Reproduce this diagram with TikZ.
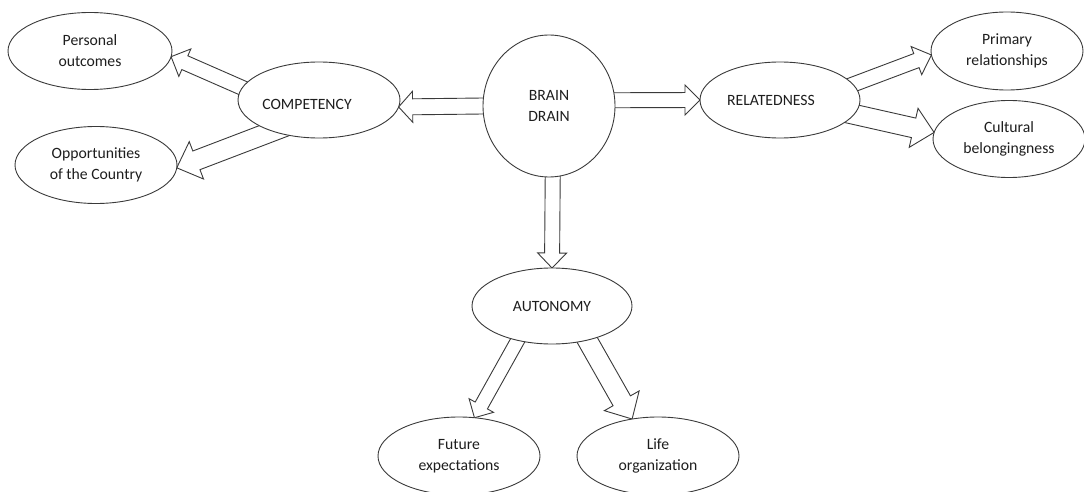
\documentclass[tikz,border=0pt]{standalone}
\usepackage{fontspec}
\setmainfont{Carlito}
\usetikzlibrary{shapes.geometric,calc}
\pgfdeclarelayer{bg}
\pgfsetlayers{bg,main}
\definecolor{ln}{HTML}{3A3A3A}
\definecolor{tx}{HTML}{1E1E1E}
\tikzset{
  oval/.style={ellipse, draw=ln, line width=0.9pt, fill=white, inner sep=0pt,
    outer sep=0pt, text=tx, align=center, font=\fontsize{15.7}{21}\selectfont},
  blk/.style={draw=ln, line width=0.9pt, fill=white, line join=miter},
}
% block arrow: #1 start anchor, #2 tip anchor, #3 shaft half width, #4 head half width, #5 head length
\newcommand\barrow[5]{%
  \path coordinate (s) at ($(#1)!-14pt!(#2)$) coordinate (b) at ($(#2)!#5!(#1)$);
  \draw[blk] ($(s)!#3!90:(#2)$) -- ($(b)!#3!90:(#2)$) -- ($(b)!#4!90:(#2)$) -- (#2)
    -- ($(b)!#4!-90:(#2)$) -- ($(b)!#3!-90:(#2)$) -- ($(s)!#3!-90:(#2)$) -- cycle;}
\begin{document}
\begin{tikzpicture}[x=1pt,y=1pt]
\useasboundingbox (0,0) rectangle (1084,-492);
\clip (0,0) rectangle (1084,-492);
\node[oval, minimum width=164pt, minimum height=77pt] (pers) at (90,-51) {Personal\\outcomes};
\node[oval, minimum width=162pt, minimum height=77pt] (opp) at (96,-165) {Opportunities\\of the Country};
\node[oval, minimum width=162pt, minimum height=76pt,
  label={[oval, draw=none, fill=none, xshift=-12pt, yshift=-4pt]center:COMPETENCY}] (comp) at (319,-100) {};
\node[oval, minimum width=132pt, minimum height=142pt] (brain) at (549,-106) {BRAIN\\DRAIN};
\node[oval, minimum width=160pt, minimum height=76pt,
  label={[oval, draw=none, fill=none, xshift=-9pt]center:RELATEDNESS}] (rel) at (780,-100) {};
\node[oval, minimum width=152pt, minimum height=78pt] (prim) at (1007,-51) {Primary\\relationships};
\node[oval, minimum width=152pt, minimum height=77pt] (cult) at (1009,-139) {Cultural\\belongingness};
\node[oval, minimum width=160pt, minimum height=76pt] (auto) at (552,-306) {AUTONOMY};
\node[oval, minimum width=162pt, minimum height=78pt] (fut) at (459,-456) {Future\\expectations};
\node[oval, minimum width=162pt, minimum height=78pt] (life) at (658,-456) {Life\\organization};
\begin{pgfonlayer}{bg}
  \barrow{brain.180}{comp.-5}{8pt}{15.5pt}{14pt}
  \barrow{brain.5}{rel.180}{7.5pt}{15pt}{15pt}
  \barrow{brain.-87}{auto.90}{7.5pt}{14.5pt}{15pt}
  \barrow{comp.171}{pers.-4}{7.5pt}{15pt}{15pt}
  \barrow{comp.-146}{opp.-2}{10pt}{20pt}{21pt}
  \barrow{rel.12}{prim.183}{7.5pt}{15pt}{16pt}
  \barrow{rel.-11}{cult.175}{10pt}{20pt}{21pt}
  \barrow{auto.-135}{fut.68}{7pt}{14pt}{14pt}
  \barrow{auto.-44}{life.125}{10pt}{20pt}{21pt}
\end{pgfonlayer}
\end{tikzpicture}
\end{document}
